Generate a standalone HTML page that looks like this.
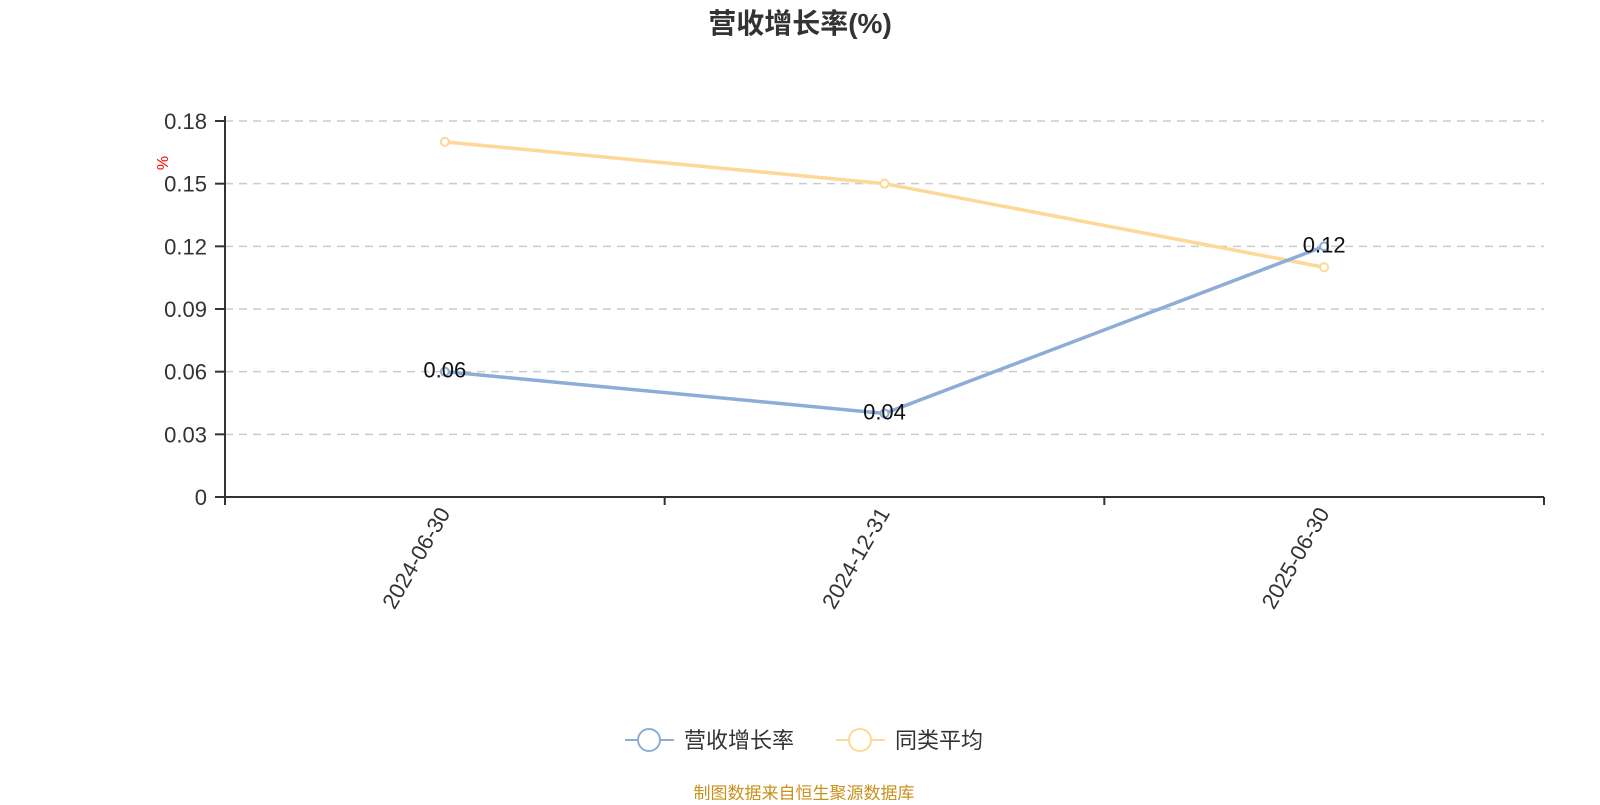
<!DOCTYPE html>
<html><head><meta charset="utf-8"><style>
body{margin:0;background:#fff;}
svg text{font-family:"Liberation Sans","Noto Sans CJK SC",sans-serif;}
</style></head><body>
<svg id="c" width="1600" height="800" viewBox="0 0 1600 800">
<text x="800" y="33" text-anchor="middle" font-size="28" font-weight="bold" fill="#333">营收增长率(%)</text>
<text x="0" y="0" transform="translate(168,163) rotate(-90)" text-anchor="middle" font-size="16" fill="red">%</text>
<g id="grid"></g><g id="axes"></g><g id="series"></g>
<g>
<g><line x1="625" y1="740" x2="674" y2="740" stroke="#8eacd8" stroke-width="2"/><circle cx="649" cy="740" r="11" fill="#fff" stroke="#8eacd8" stroke-width="2"/><text x="684" y="748" font-size="22" fill="#333">营收增长率</text></g>
<g><line x1="836" y1="740" x2="885" y2="740" stroke="#fdd896" stroke-width="2"/><circle cx="860" cy="740" r="11" fill="#fff" stroke="#fdd896" stroke-width="2"/><text x="895" y="748" font-size="22" fill="#333">同类平均</text></g>
</g>
<text x="804" y="799" text-anchor="middle" font-size="17" fill="#c8911c">制图数据来自恒生聚源数据库</text>
</svg>
<script>
const categories=["2024-06-30","2024-12-31","2025-06-30"];
const revenueGrowth=[0.06,0.04,0.12];
const peerAverage=[0.17,0.15,0.11];
const yTicks=[0,0.03,0.06,0.09,0.12,0.15,0.18];
const yTickLabels=["0","0.03","0.06","0.09","0.12","0.15","0.18"];
const NS="http://www.w3.org/2000/svg";
const L=225,R=1544,T=121,B=497,YMAX=0.18;
const y=v=>B-(v/YMAX)*(B-T);
const bw=(R-L)/categories.length;
const x=i=>L+bw*(i+0.5);
function mk(tag,attrs,parent){const e=document.createElementNS(NS,tag);for(const k in attrs)e.setAttribute(k,attrs[k]);document.getElementById(parent).appendChild(e);return e;}
yTicks.forEach((t,i)=>{
 if(t>0){const g=mk('line',{x1:L,x2:R,y1:y(t),y2:y(t),stroke:'#ccc','stroke-width':1.5,'stroke-dasharray':'8,6'},'grid');
 
 }
 const tk=mk('line',{x1:L-10,x2:L,y1:y(t),y2:y(t),stroke:'#333','stroke-width':2},'axes');
 
 
 const tx=mk('text',{x:L-18,y:y(t)+8,'text-anchor':'end','font-size':22,fill:'#333'},'axes');
 tx.textContent=yTickLabels[i];
 
 
});
const ya=mk('line',{x1:L,x2:L,y1:T-5,y2:B+8,stroke:'#333','stroke-width':2},'axes');


const xa=mk('line',{x1:L,x2:R,y1:B,y2:B,stroke:'#333','stroke-width':2},'axes');


for(let i=0;i<=categories.length;i++){const t=mk('line',{x1:L+bw*i,x2:L+bw*i,y1:B,y2:B+8,stroke:'#333','stroke-width':2},'axes');
 
 }
categories.forEach((c,i)=>{
 const t=mk('text',{transform:`translate(${x(i)+6},${B+16}) rotate(-60)`,'text-anchor':'end','font-size':22,fill:'#333'},'axes');
 t.textContent=c;
 
 
});
function series(vals,color,name,labels){
 const p=mk('polyline',{points:vals.map((v,i)=>x(i)+','+y(v)).join(' '),fill:'none',stroke:color,'stroke-width':3.5},'series');
 
 
 vals.forEach((v,i)=>{
  const c=mk('circle',{cx:x(i),cy:y(v),r:4,fill:'#fff',stroke:color,'stroke-width':2},'series');
  
  
  if(labels){const t=mk('text',{x:x(i),y:y(v)+6,'text-anchor':'middle','font-size':22,fill:'#111'},'series');
   t.textContent=String(v);
   
   }
 });
}
series(peerAverage,'#fdd896','peer-average',false);
series(revenueGrowth,'#8eacd8','revenue-growth',true);
</script>
</body></html>
